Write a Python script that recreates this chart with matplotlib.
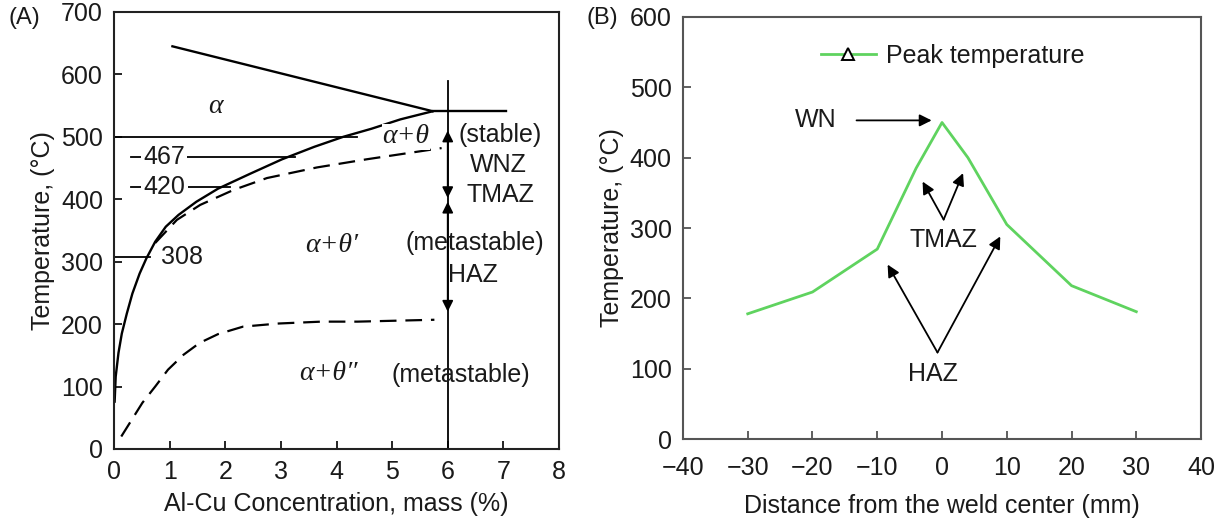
import matplotlib
matplotlib.use("Agg")
import matplotlib.pyplot as plt
from matplotlib.lines import Line2D

plt.rcParams['font.family'] = ['Liberation Sans', 'DejaVu Sans']

# ---------------- Panel A data ----------------
solvus_x = [0.01, 0.03, 0.08, 0.14, 0.23, 0.33, 0.46, 0.58, 0.74, 0.93, 1.16, 1.48,
            1.87, 2.45, 3.02, 3.60, 4.12, 4.63, 5.15, 5.73]
solvus_y = [74, 116, 154, 185, 217, 249, 281, 305, 332, 356, 375, 396,
            417, 441, 464, 484, 500, 513, 528, 541]

liquidus_x = [1.05, 5.73]
liquidus_y = [645, 541]
eutectic_x = [5.73, 7.05]
eutectic_y = [541, 541]

theta1_x = [0.74, 1.13, 1.55, 2.15, 2.75, 3.65, 4.54, 5.89]
theta1_y = [330, 367, 391, 415, 434, 451, 464, 482]

theta2_x = [0.13, 0.32, 0.51, 0.74, 0.97, 1.25, 1.54, 1.87, 2.32, 2.96, 3.73, 4.38, 5.76]
theta2_y = [20, 47, 74, 100, 127, 151, 170, 184, 196, 201, 204, 204, 207]

# reference temperature lines: (value, x_start, x_end)
ref_temps = [500, 467, 420, 308]
ref_x0 = [0.0, 0.30, 0.30, 0.0]
ref_x1 = [4.36, 3.26, 2.09, 0.65]
ref_label_x = [None, 0.90, 0.90, 1.23]

# ---------------- Panel B data ----------------
dist = [-30, -20, -10, -4, 0, 4, 10, 20, 30]
peak_temp = [178, 209, 270, 385, 450, 400, 305, 218, 181]

xticks_a = [0, 1, 2, 3, 4, 5, 6, 7, 8]
yticks_a = [0, 100, 200, 300, 400, 500, 600, 700]
xticks_b = [-40, -30, -20, -10, 0, 10, 20, 30, 40]
yticks_b = [0, 100, 200, 300, 400, 500, 600]

TXT = '#1a1a1a'
FS = 18
GREEK = dict(family=['Liberation Serif', 'DejaVu Serif'], style='italic', fontsize=20)

fig = plt.figure(figsize=(12.17, 5.23), dpi=100)
axA = fig.add_axes([0.0937, 0.1415, 0.3656, 0.8356])
axB = fig.add_axes([0.5612, 0.1606, 0.4257, 0.8069])

# ---------------- Panel A ----------------
lw = 1.7
axA.plot(solvus_x, solvus_y, color='black', lw=lw, solid_capstyle='butt')
axA.plot(liquidus_x, liquidus_y, color='black', lw=lw)
axA.plot(eutectic_x, eutectic_y, color='black', lw=lw)
dash = (0, (7.5, 4.0))
axA.plot(theta1_x, theta1_y, color='black', lw=1.6, linestyle=dash)
axA.plot(theta2_x, theta2_y, color='black', lw=1.6, linestyle=dash)

for t, x0, x1, lx in zip(ref_temps, ref_x0, ref_x1, ref_label_x):
    axA.plot([x0, x1], [t, t], color='black', lw=1.3, zorder=1)
    if lx is not None:
        axA.text(lx, t, str(t), fontsize=FS, color=TXT, ha='center', va='center',
                 zorder=3, bbox=dict(boxstyle='square,pad=0.1', fc='white', ec='none'))

# vertical line at 6 mass% with zone arrows
axA.plot([6, 6], [0, 590], color='black', lw=1.3)
arrow_kw = dict(arrowstyle='<|-|>', color='black', lw=1.3, mutation_scale=16,
                shrinkA=0, shrinkB=0)
axA.annotate('', xy=(6, 510), xytext=(6, 402), arrowprops=arrow_kw)
axA.annotate('', xy=(6, 396), xytext=(6, 220), arrowprops=arrow_kw)

axA.text(1.82, 548, 'α', color=TXT, ha='center', va='center', **GREEK)
axA.text(5.25, 500, 'α+θ', color=TXT, ha='center', va='center',
         bbox=dict(boxstyle='square,pad=0.02', fc='white', ec='none'), zorder=3, **GREEK)
axA.text(3.92, 326, 'α+θ′', color=TXT, ha='center', va='center', **GREEK)
axA.text(3.86, 121, 'α+θ″', color=TXT, ha='center', va='center', **GREEK)

axA.text(6.94, 503, '(stable)', fontsize=FS, color=TXT, ha='center', va='center')
axA.text(6.91, 455, 'WNZ', fontsize=FS, color=TXT, ha='center', va='center')
axA.text(6.94, 407, 'TMAZ', fontsize=FS, color=TXT, ha='center', va='center')
axA.text(6.49, 330, '(metastable)', fontsize=FS, color=TXT, ha='center', va='center')
axA.text(6.46, 279, 'HAZ', fontsize=FS, color=TXT, ha='center', va='center')
axA.text(6.24, 119, '(metastable)', fontsize=FS, color=TXT, ha='center', va='center')

axA.set_xlim(0, 8)
axA.set_ylim(0, 700)
axA.set_xticks(xticks_a)
axA.set_yticks(yticks_a)
axA.set_xlabel('Al-Cu Concentration, mass (%)', fontsize=FS, color=TXT, labelpad=6)
axA.set_ylabel('Temperature, (°C)', fontsize=FS, color=TXT, labelpad=4)
axA.tick_params(direction='in', length=6, width=1.2, labelsize=FS, colors='black',
                labelcolor=TXT, pad=8, top=False, right=False)
for s in axA.spines.values():
    s.set_linewidth(1.5)
    s.set_color('#222222')

# ---------------- Panel B ----------------
green = '#5fd35f'
axB.plot(dist, peak_temp, color=green, lw=2.0)

handle = Line2D([], [], color=green, lw=2.0, marker='^', markersize=8,
                markerfacecolor='white', markeredgecolor='black', markeredgewidth=1.4)
axB.legend([handle], ['Peak temperature'], loc='upper center', bbox_to_anchor=(0.52, 0.99),
           frameon=False, fontsize=FS, handlelength=2.2, handletextpad=0.4,
           labelcolor=TXT)

akw = dict(arrowstyle='-|>', color='black', lw=1.3, mutation_scale=18, shrinkA=0, shrinkB=0)
axB.text(-19.5, 453, 'WN', fontsize=FS, color=TXT, ha='center', va='center')
axB.annotate('', xy=(-1.6, 453), xytext=(-13.2, 453), arrowprops=akw)
axB.text(0.25, 283, 'TMAZ', fontsize=FS, color=TXT, ha='center', va='center')
axB.annotate('', xy=(-3.0, 366), xytext=(0.25, 312), arrowprops=akw)
axB.annotate('', xy=(3.25, 378), xytext=(0.25, 312), arrowprops=akw)
axB.text(-1.4, 92, 'HAZ', fontsize=FS, color=TXT, ha='center', va='center')
axB.annotate('', xy=(-8.4, 248), xytext=(-0.7, 123), arrowprops=akw)
axB.annotate('', xy=(9.0, 288), xytext=(-0.7, 123), arrowprops=akw)

axB.set_xlim(-40, 40)
axB.set_ylim(0, 600)
axB.set_xticks(xticks_b)
axB.set_yticks(yticks_b)
axB.set_xlabel('Distance from the weld center (mm)', fontsize=FS, color=TXT, labelpad=10)
axB.set_ylabel('Temperature, (°C)', fontsize=FS, color=TXT, labelpad=4)
axB.tick_params(direction='in', length=6, width=1.2, labelsize=FS, colors='#444444',
                labelcolor=TXT, top=False, right=False)
axB.tick_params(axis='y', pad=8)
axB.tick_params(axis='x', pad=12)
for s in axB.spines.values():
    s.set_linewidth(1.5)
    s.set_color('#555555')

fig.text(24 / 1217, 1 - 18 / 523, '(A)', fontsize=FS - 1, color=TXT, ha='center', va='center')
fig.text(602 / 1217, 1 - 18 / 523, '(B)', fontsize=FS - 1, color=TXT, ha='center', va='center')

fig.savefig('out.png', dpi=100)
